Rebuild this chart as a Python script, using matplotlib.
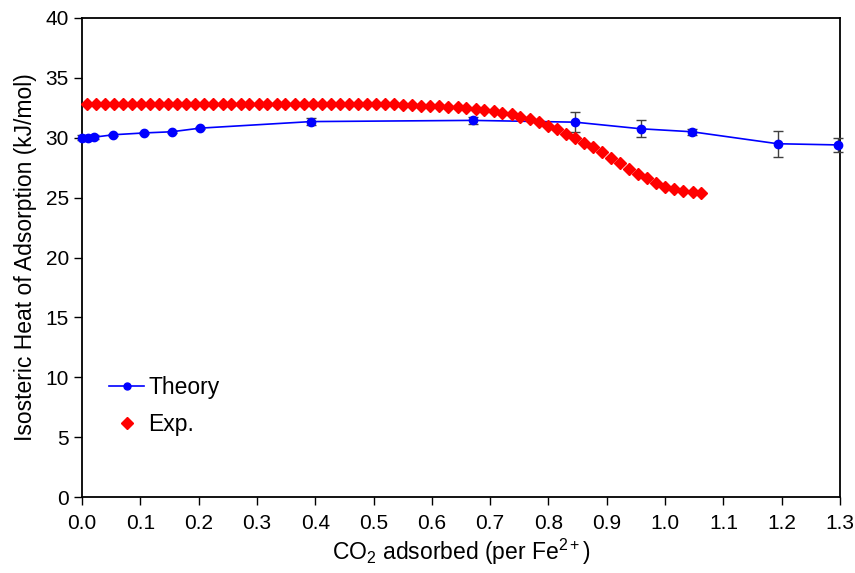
import matplotlib
matplotlib.use("Agg")
import matplotlib.pyplot as plt
from matplotlib.lines import Line2D

plt.rcParams['font.family'] = ['Liberation Sans', 'DejaVu Sans']
plt.rcParams['mathtext.fontset'] = 'custom'
plt.rcParams['mathtext.rm'] = 'Liberation Sans'
plt.rcParams['mathtext.it'] = 'Liberation Sans:italic'

# theory (DFT) points with error bars
theory_x = [0.0, 0.011, 0.021, 0.054, 0.106, 0.154, 0.202, 0.393, 0.670,
            0.846, 0.958, 1.046, 1.193, 1.297]
theory_y = [30.0, 30.0, 30.05, 30.25, 30.4, 30.5, 30.8, 31.35, 31.45,
            31.3, 30.75, 30.5, 29.5, 29.4]
theory_err = [0.2, 0.15, 0.15, 0.1, 0.1, 0.1, 0.1, 0.3, 0.3,
              0.85, 0.7, 0.25, 1.1, 0.6]

# experimental isosteric heat
exp_x = [0.008, 0.024, 0.039, 0.055, 0.070, 0.086, 0.101, 0.117, 0.132, 0.148,
         0.163, 0.179, 0.194, 0.210, 0.225, 0.241, 0.256, 0.272, 0.287, 0.303,
         0.318, 0.334, 0.349, 0.365, 0.380, 0.396, 0.411, 0.427, 0.442, 0.458,
         0.473, 0.489, 0.504, 0.520, 0.535, 0.551, 0.566, 0.582, 0.597, 0.613,
         0.628, 0.644, 0.659, 0.675, 0.690, 0.706, 0.721, 0.737, 0.752, 0.768,
         0.783, 0.799, 0.814, 0.830, 0.845, 0.861, 0.876, 0.892, 0.907, 0.923,
         0.938, 0.954, 0.969, 0.985, 1.000, 1.016, 1.031, 1.047, 1.062]
exp_y = [32.85, 32.85, 32.85, 32.85, 32.85, 32.85, 32.85, 32.85, 32.85, 32.85,
         32.85, 32.85, 32.85, 32.85, 32.85, 32.85, 32.85, 32.85, 32.85, 32.85,
         32.85, 32.85, 32.85, 32.85, 32.85, 32.85, 32.84, 32.84, 32.84, 32.83,
         32.83, 32.82, 32.82, 32.80, 32.78, 32.75, 32.72, 32.69, 32.66, 32.62,
         32.58, 32.53, 32.47, 32.40, 32.32, 32.22, 32.10, 31.95, 31.76, 31.55,
         31.30, 31.02, 30.70, 30.35, 29.97, 29.60, 29.20, 28.80, 28.35, 27.90,
         27.42, 27.00, 26.60, 26.22, 25.92, 25.70, 25.58, 25.48, 25.40]

xticks = [0.0, 0.1, 0.2, 0.3, 0.4, 0.5, 0.6, 0.7, 0.8, 0.9, 1.0, 1.1, 1.2, 1.3]
yticks = [0, 5, 10, 15, 20, 25, 30, 35, 40]

fig = plt.figure(figsize=(8.55, 5.73), dpi=100)
ax = fig.add_axes([0.0959, 0.1326, 0.8866, 0.836])

ax.errorbar(theory_x, theory_y, yerr=theory_err, color='#0000FF', lw=1.2,
            marker='o', ms=6, ecolor='#404040', elinewidth=1, capsize=3.5,
            capthick=1, clip_on=False, zorder=3)
ax.plot(exp_x, exp_y, ls='none', marker='D', ms=6.5, color='#FF0000',
        mec='#FF0000', clip_on=False, zorder=4)

ax.set_xlim(0, 1.3)
ax.set_ylim(0, 40)
ax.set_xticks(xticks)
ax.set_xticklabels([f"{t:.1f}" for t in xticks])
ax.set_yticks(yticks)
ax.tick_params(direction='out', length=6, width=1, labelsize=15, colors='black')
ax.tick_params(axis='x', pad=6)
for s in ax.spines.values():
    s.set_linewidth(1.3)

ax.set_xlabel(r'CO$_\mathregular{2}$ adsorbed (per Fe$^\mathregular{2+}$)', fontsize=16.5, labelpad=3)
ax.set_ylabel('Isosteric Heat of Adsorption (kJ/mol)', fontsize=16.5, labelpad=6)

handles = [Line2D([], [], color='#0000FF', lw=1.2, marker='o', ms=5),
           Line2D([], [], ls='none', marker='D', ms=6, color='#FF0000')]
ax.legend(handles, ['Theory', 'Exp.'], loc='lower left',
          bbox_to_anchor=(0.009, 0.084), frameon=False, fontsize=16.5,
          handlelength=1.5, handletextpad=0.2, labelspacing=0.6)

fig.savefig("out.png", dpi=100)
